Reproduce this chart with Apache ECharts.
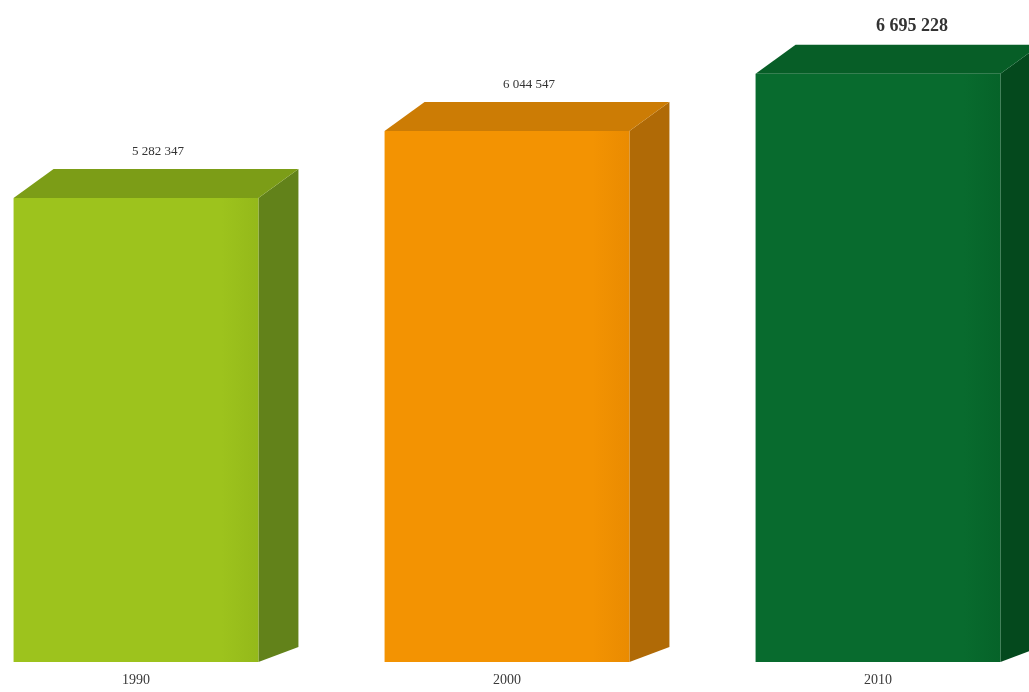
<!DOCTYPE html>
<html>
<head>
<meta charset="utf-8">
<script src="https://cdn.jsdelivr.net/npm/echarts@6/dist/echarts.min.js"></script>
<style>html,body{margin:0;padding:0;background:#fff}#c{width:1029px;height:692px}</style>
</head>
<body>
<div id="c"></div>
<script>
const categories = ['1990', '2000', '2010'];
const values = [5282347, 6044547, 6695228];
const frontColors = ['#9dc31d', '#f39302', '#086b2e'];
const frontShade = ['#94b91a', '#ea8b01', '#066329'];
const topColors = ['#7c9d17', '#cc7c05', '#075e27'];
const sideColors = ['#62821a', '#b06a06', '#04491d'];

function fmt(v) {
  return String(v).replace(/\B(?=(\d{3})+(?!\d))/g, ' ');
}

const chart = echarts.init(document.getElementById('c'), null, {renderer: 'canvas'});
const data = values.map((v, i) => [i, v]);

chart.setOption({
  animation: false,
  grid: {left: 136, right: 151, top: 47, bottom: 30},
  xAxis: {
    type: 'category',
    data: categories,
    boundaryGap: false,
    axisLine: {show: false},
    axisTick: {show: false},
    splitLine: {show: false},
    axisLabel: {margin: 11, fontFamily: 'Liberation Serif', fontSize: 14, color: '#3a3a3a'}
  },
  yAxis: {
    type: 'value', min: 0, max: 7000000, show: false, splitLine: {show: false}
  },
  series: [{
    type: 'custom',
    clip: false,
    data: data,
    renderItem: function (params, api) {
      const i = api.value(0);
      const top = api.coord([i, api.value(1)]);
      const base = api.coord([i, 0]);
      const band = api.size([1, 0])[0];
      const w = band * 0.66;
      const x0 = top[0] - w / 2, x1 = top[0] + w / 2;
      const yT = top[1], yB = base[1];
      const dx = 40, dy = 29, dyb = 15;
      const idx = params.dataIndex;
      const isLast = idx === values.length - 1;
      return {
        type: 'group',
        children: [
          {
            type: 'polygon',
            shape: {points: [[x1, yT], [x1 + dx, yT - dy], [x1 + dx, yB - dyb], [x1, yB]]},
            style: {fill: sideColors[idx]}
          },
          {
            type: 'polygon',
            shape: {points: [[x0, yT], [x0 + dx, yT - dy], [x1 + dx, yT - dy], [x1, yT]]},
            style: {fill: topColors[idx]}
          },
          {
            type: 'rect',
            shape: {x: x0, y: yT, width: w, height: yB - yT},
            style: {
              fill: new echarts.graphic.LinearGradient(0, 0, 1, 0, [
                {offset: 0, color: frontColors[idx]},
                {offset: 0.85, color: frontColors[idx]},
                {offset: 1, color: frontShade[idx]}
              ])
            }
          },
          {
            type: 'text',
            x: top[0] + dx / 2 + (isLast ? 14 : 2),
            y: yT - dy - (isLast ? 18 : 17),
            style: {
              text: fmt(api.value(1)),
              fontFamily: 'Liberation Serif',
              fontSize: isLast ? 18 : 13,
              fontWeight: isLast ? 'bold' : 'normal',
              fill: '#333333',
              align: 'center',
              verticalAlign: 'middle'
            }
          }
        ]
      };
    }
  }]
});
</script>
</body>
</html>
